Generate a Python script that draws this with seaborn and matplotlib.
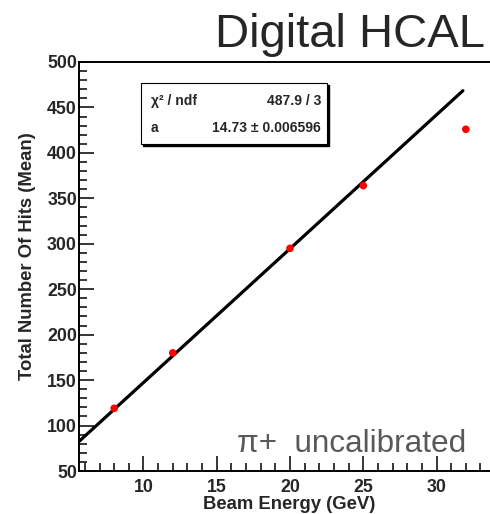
import matplotlib
matplotlib.use("Agg")
import matplotlib.pyplot as plt
from matplotlib.patches import Rectangle
from matplotlib.ticker import MultipleLocator
import numpy as np
import pandas as pd
import seaborn as sns

# Measured mean hit counts per beam energy
beam_energy = [8, 12, 20, 25, 32]
mean_hits = [119, 180, 295, 364, 426]

# Linear fit through the origin: hits = a * E
fit_a = 14.73
fit_a_err = 0.006596
chi2 = 487.9
ndf = 3
fit_range = [5.6, 31.8]

sns.set_theme(style="ticks")
plt.rcParams["font.family"] = ["Liberation Sans", "DejaVu Sans"]

W, H = 490, 514
fig = plt.figure(figsize=(W / 100, H / 100), dpi=100)
ax = fig.add_axes([79 / W, 43 / H, (501 - 79) / W, 409 / H])

pts = pd.DataFrame({"E": beam_energy, "hits": mean_hits})
fit_x = np.array(fit_range)
fit = pd.DataFrame({"E": fit_x, "hits": fit_a * fit_x})

sns.lineplot(data=fit, x="E", y="hits", ax=ax, color="black", linewidth=2.3, zorder=2)
sns.scatterplot(data=pts, x="E", y="hits", ax=ax, color="#ff0000", s=30,
                edgecolor="none", zorder=3)

ax.set_xlim(5.6, 34.4)
ax.set_ylim(50, 500)
ax.xaxis.set_major_locator(MultipleLocator(5))
ax.xaxis.set_minor_locator(MultipleLocator(1))
ax.yaxis.set_major_locator(MultipleLocator(50))
ax.yaxis.set_minor_locator(MultipleLocator(10))
ax.tick_params(axis="both", which="major", direction="in", length=11, width=1.1,
               labelsize=12.8, color="black")
ax.tick_params(axis="both", which="minor", direction="in", length=5.5, width=1.1,
               color="black")
ax.tick_params(axis="x", which="both", pad=5.5)
ax.tick_params(axis="y", which="both", pad=1.5)
for lab in ax.get_xticklabels() + ax.get_yticklabels():
    lab.set_fontweight("bold")
for side in ("left", "bottom", "top"):
    ax.spines[side].set_visible(True)
    ax.spines[side].set_linewidth(1.4)
    ax.spines[side].set_color("black")
ax.spines["right"].set_visible(False)
ax.set_xlabel("")
ax.set_ylabel("")

fig.text(289 / W, 1 - 509 / H, "Beam Energy (GeV)", ha="center", va="baseline",
         fontsize=13.3, fontweight="bold")
fig.text(28 / W, 1 - 256 / H, "Total Number Of Hits (Mean)", ha="center",
         va="center", rotation=90, fontsize=13.3, fontweight="bold")

fig.text(485 / W, 1 - 47 / H, "Digital HCAL", ha="right", va="baseline",
         fontsize=34)
fig.text(237 / W, 1 - 452 / H, "π+  uncalibrated", ha="left", va="baseline",
         fontsize=22.7, color="#595959")

# Fit statistics box with drop shadow
bx0, bx1, by0, by1 = 141, 327, 83, 144
fig.add_artist(Rectangle(((bx0 + 2) / W, 1 - (by1 + 2) / H), (bx1 - bx0) / W,
                         (by1 - by0) / H, transform=fig.transFigure,
                         facecolor="black", edgecolor="black", zorder=5))
fig.add_artist(Rectangle((bx0 / W, 1 - by1 / H), (bx1 - bx0) / W, (by1 - by0) / H,
                         transform=fig.transFigure, facecolor="white",
                         edgecolor="black", linewidth=0.8, zorder=6))
fig.text(151 / W, 1 - 105 / H, "χ² / ndf", ha="left", va="baseline",
         fontsize=10, fontweight="bold", zorder=7)
fig.text(321 / W, 1 - 105 / H, f"{chi2:.1f} / {ndf}", ha="right", va="baseline",
         fontsize=10, fontweight="bold", zorder=7)
fig.text(151 / W, 1 - 132 / H, "a", ha="left", va="baseline",
         fontsize=10, fontweight="bold", zorder=7)
fig.text(321 / W, 1 - 132 / H, f"{fit_a:.2f} ± {fit_a_err:.6f}", ha="right",
         va="baseline", fontsize=10, fontweight="bold", zorder=7)

fig.savefig("out.png", dpi=100)
